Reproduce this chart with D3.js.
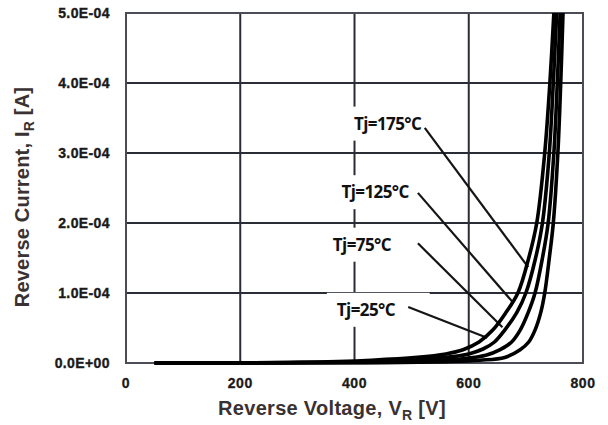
<!DOCTYPE html>
<html>
<head>
<meta charset="utf-8">
<script src="https://cdn.jsdelivr.net/npm/d3@7"></script>
<style>
  body { margin: 0; background: #fff; }
  svg { display: block; }
</style>
</head>
<body>
<svg width="608" height="425"></svg>
<script>
// reverse voltage [V] and reverse current [A]
var volts175 = [50, 300, 430, 510, 560, 590, 618, 642, 665, 686, 705, 719, 733, 742, 749];
var amps175 = [0, 0.01e-4, 0.04e-4, 0.08e-4, 0.13e-4, 0.19e-4, 0.3e-4, 0.47e-4, 0.72e-4, 1.0e-4, 1.5e-4, 2.0e-4, 3.0e-4, 4.0e-4, 5.0e-4];
var volts125 = [50, 350, 480, 560, 600, 625, 645, 663, 684, 700, 717, 729, 741, 748, 754];
var amps125 = [0, 0.01e-4, 0.035e-4, 0.08e-4, 0.13e-4, 0.2e-4, 0.3e-4, 0.47e-4, 0.72e-4, 1.0e-4, 1.5e-4, 2.0e-4, 3.0e-4, 4.0e-4, 5.0e-4];
var volts75 = [50, 400, 520, 590, 630, 655, 675, 690, 704, 716, 729, 739, 749, 755, 760];
var amps75 = [0, 0.008e-4, 0.025e-4, 0.06e-4, 0.11e-4, 0.19e-4, 0.3e-4, 0.47e-4, 0.72e-4, 1.0e-4, 1.5e-4, 2.0e-4, 3.0e-4, 4.0e-4, 5.0e-4];
var volts25 = [50, 450, 560, 620, 663, 690, 705, 716, 726, 733, 741, 748, 756, 761, 765];
var amps25 = [0, 0.005e-4, 0.02e-4, 0.04e-4, 0.08e-4, 0.19e-4, 0.3e-4, 0.47e-4, 0.72e-4, 1.0e-4, 1.5e-4, 2.0e-4, 3.0e-4, 4.0e-4, 5.0e-4];

var xTicks = [0, 200, 400, 600, 800];
var yTicks = [0, 1e-4, 2e-4, 3e-4, 4e-4, 5e-4];

// label text, label centre and leader line (all in data units)
var labelText = ['Tj=175°C', 'Tj=125°C', 'Tj=75°C', 'Tj=25°C'];
var labelAt = [[458, 3.42e-4], [436, 2.44e-4], [413, 1.69e-4], [420, 0.76e-4]];
var leaderFrom = [[523, 3.36e-4], [511, 2.43e-4], [511, 1.71e-4], [494, 0.80e-4]];
var leaderTo = [[704, 1.37e-4], [678, 0.86e-4], [659, 0.51e-4], [632, 0.36e-4]];

var series = [
  { v: volts175, a: amps175 },
  { v: volts125, a: amps125 },
  { v: volts75, a: amps75 },
  { v: volts25, a: amps25 }
];

var svg = d3.select('svg');
svg.append('rect').attr('width', 608).attr('height', 425).attr('fill', '#fff');

var x = d3.scaleLinear().domain([0, 800]).range([126, 583]);
var y = d3.scaleLinear().domain([0, 5e-4]).range([363, 13]);

function sci(d) {
  if (d === 0) return '0.0E+00';
  var p = d.toExponential(1).split('e');
  var e = +p[1];
  var s = e < 0 ? '-' : '+';
  e = Math.abs(e);
  return p[0] + 'E' + s + (e < 10 ? '0' + e : e);
}

var gridColor = '#2a2d35';

// grid
svg.append('g')
  .selectAll('line')
  .data(xTicks.slice(1, -1))
  .enter()
  .append('line')
  .attr('x1', function(d) { return x(d); })
  .attr('x2', function(d) { return x(d); })
  .attr('y1', y(0))
  .attr('y2', y(5e-4))
  .attr('stroke', gridColor)
  .attr('stroke-width', 2);

svg.append('g')
  .selectAll('line')
  .data(yTicks.slice(1, -1))
  .enter()
  .append('line')
  .attr('x1', x(0))
  .attr('x2', x(800))
  .attr('y1', function(d) { return y(d); })
  .attr('y2', function(d) { return y(d); })
  .attr('stroke', gridColor)
  .attr('stroke-width', 2);

// white boxes behind the labels, cutting the grid
var labels = svg.append('g');
var texts = labels
  .selectAll('text')
  .data(labelText)
  .enter()
  .append('text')
  .attr('x', function(d, i) { return x(labelAt[i][0]); })
  .attr('y', function(d, i) { return y(labelAt[i][1]); })
  .attr('dy', '0.35em')
  .attr('text-anchor', 'middle')
  .attr('font-family', '"Open Sans", sans-serif')
  .attr('font-weight', 'bold')
  .attr('font-size', 17)
  .attr('letter-spacing', -0.6)
  .attr('fill', '#111')
  .text(function(d) { return d; });

texts.each(function(d, i) {
  var bb = this.getBBox();
  var cy = y(labelAt[i][1]);
  labels.insert('rect', 'text')
    .attr('x', bb.x - 10)
    .attr('y', cy - 17)
    .attr('width', bb.width + 44)
    .attr('height', 34)
    .attr('fill', '#fff');
});

// plot border
svg.append('rect')
  .attr('x', x(0))
  .attr('y', y(5e-4))
  .attr('width', x(800) - x(0))
  .attr('height', y(0) - y(5e-4))
  .attr('fill', 'none')
  .attr('stroke', '#4a4d55')
  .attr('stroke-width', 2);

// leader lines
svg.append('g')
  .selectAll('line')
  .data(labelText)
  .enter()
  .append('line')
  .attr('x1', function(d, i) { return x(leaderFrom[i][0]); })
  .attr('y1', function(d, i) { return y(leaderFrom[i][1]); })
  .attr('x2', function(d, i) { return x(leaderTo[i][0]); })
  .attr('y2', function(d, i) { return y(leaderTo[i][1]); })
  .attr('stroke', '#151515')
  .attr('stroke-width', 2.2);

// curves
var line = d3.line()
  .x(function(d) { return x(d[0]); })
  .y(function(d) { return y(Math.max(0, d[1])); })
  .curve(d3.curveCatmullRom.alpha(0.5));

svg.append('g')
  .selectAll('path')
  .data(series)
  .enter()
  .append('path')
  .attr('d', function(s) {
    return line(s.v.map(function(v, i) { return [v, s.a[i]]; }));
  })
  .attr('fill', 'none')
  .attr('stroke', '#000')
  .attr('stroke-width', 3.6)
  .attr('stroke-linecap', 'butt');

// tick labels
svg.append('g')
  .selectAll('text')
  .data(yTicks)
  .enter()
  .append('text')
  .attr('x', 110)
  .attr('y', function(d) { return y(d); })
  .attr('dy', '0.35em')
  .attr('text-anchor', 'end')
  .attr('font-family', '"Liberation Sans", Arial, sans-serif')
  .attr('font-weight', 'bold')
  .attr('font-size', 14)
  .attr('letter-spacing', 0.4)
  .attr('fill', '#1a1a1a')
  .attr('stroke', '#1a1a1a')
  .attr('stroke-width', 0.35)
  .text(sci);

svg.append('g')
  .selectAll('text')
  .data(xTicks)
  .enter()
  .append('text')
  .attr('x', function(d) { return x(d); })
  .attr('y', 383)
  .attr('dy', '0.35em')
  .attr('text-anchor', 'middle')
  .attr('font-family', '"Liberation Sans", Arial, sans-serif')
  .attr('font-weight', 'bold')
  .attr('font-size', 14)
  .attr('letter-spacing', 0.6)
  .attr('fill', '#1a1a1a')
  .attr('stroke', '#1a1a1a')
  .attr('stroke-width', 0.3)
  .text(function(d) { return d; });

// axis titles
var xt = svg.append('text')
  .attr('x', 332)
  .attr('y', 408)
  .attr('dy', '0.35em')
  .attr('text-anchor', 'middle')
  .attr('font-family', '"Liberation Sans", Arial, sans-serif')
  .attr('font-weight', 'bold')
  .attr('font-size', 20)
  .attr('letter-spacing', 0.3)
  .attr('fill', '#3a3232');
xt.append('tspan').text('Reverse Voltage, V');
xt.append('tspan').attr('font-size', 14).attr('dy', 5).text('R');
xt.append('tspan').attr('dy', -5).text(' [V]');

var yt = svg.append('text')
  .attr('transform', 'translate(22,197) rotate(-90)')
  .attr('dy', '0.35em')
  .attr('text-anchor', 'middle')
  .attr('font-family', '"Liberation Sans", Arial, sans-serif')
  .attr('font-weight', 'bold')
  .attr('font-size', 20)
  .attr('letter-spacing', 0.2)
  .attr('fill', '#3a3232');
yt.append('tspan').text('Reverse Current, I');
yt.append('tspan').attr('font-size', 14).attr('dy', 5).text('R');
yt.append('tspan').attr('dy', -5).text(' [A]');
</script>
</body>
</html>
